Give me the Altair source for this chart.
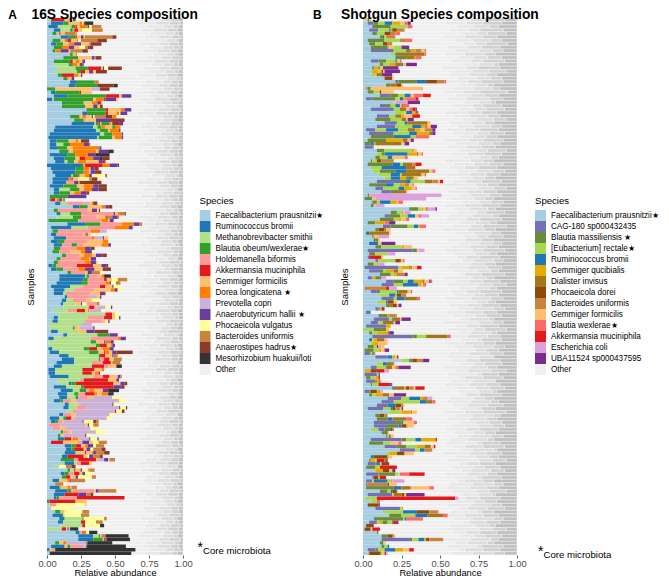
import altair as alt
import pandas as pd

names_a = {"f":"Faecalibacterium prausnitzii★","r":"Ruminococcus bromii","m":"Methanobrevibacter smithii",
 "b":"Blautia obeum/wexlerae★","h":"Holdemanella biformis","k":"Akkermansia muciniphila","g":"Gemmiger formicilis",
 "d":"Dorea longicatena ★","p":"Prevotella copri","a":"Anaerobutyricum hallii ★","v":"Phocaeicola vulgatus",
 "u":"Bacteroides uniformis","n":"Anaerostipes hadrus★","z":"Mesorhizobium huakuii/loti"}
colors_a = {"f":"#A6CEE3","r":"#1F78B4","m":"#B2DF8A","b":"#33A02C","h":"#FB9A99","k":"#E31A1C","g":"#FDBF6F",
 "d":"#FF7F00","p":"#CAB2D6","a":"#6A3D9A","v":"#FFFF99","u":"#C98340","n":"#8C3A2B","z":"#333333"}
names_b = {"f":"Faecalibacterium prausnitzii★","c":"CAG-180 sp000432435","t":"Blautia massiliensis ★","e":"[Eubacterium] rectale★",
 "r":"Ruminococcus bromii","q":"Gemmiger qucibialis","i":"Dialister invisus","o":"Phocaeicola dorei","u":"Bacteroides uniformis",
 "g":"Gemmiger formicilis","w":"Blautia wexlerae★","k":"Akkermansia muciniphila","s":"Escherichia coli","x":"UBA11524 sp000437595"}
colors_b = {"f":"#A6CEE3","c":"#7570B3","t":"#6A8A3C","e":"#A6D854","r":"#1F78B4","q":"#E6AB02","i":"#A6761D","o":"#8C4A0B",
 "u":"#C98340","g":"#FDBF6F","w":"#FB6A6A","k":"#E31A1C","s":"#DDA0DD","x":"#7B2D8E"}

rows_a = [
"f2 m1 k10 g3 d1 a1 v1 n1 z1","f3 r9 b4 g8 d2 v1 a1 z6","f1 r7 m10 b3 k1 g2 d6 a1 v2 u7","f5 r5 m7 b2 h1 k3 g3 v7 u8","f4 b3 h1 m1 k1 g3 u8 d1",
"f10 r6 b5 k1 g3 a2 g1 u20 n3","f4 b6 g3 d2 a2 k1 g4 d1 v2 u12 n7","f3 r4 b5 g4 d4 a5 g6 u1 n8","f5 b6 d5 a4 g4 v4 u2 a1 n3","f4 b2 d4 a6 g1 u9 n4",
"f16 h1 b2 m2 d1","f12 b11 g10 a2 u1 n4","f5 b12 k2 g2 d3 g2 a2","f5 m11 b3 d3 g2 n2 a1","f8 m13 b9 k10 g1 a1 v3 n10",
"f5 m17 b3 k3 g3 a3 g2 n8","f8 b3 k9 d3 g2 a1","f12 b3 d1 g2 a2","f17 r5 b13 u3","f16 r5 b16 n12 z3",
"b6 g27 p6 n7","f3 r3 b18 k1 g7 h1","f5 r10 b28 k10 g2 a7","r4 f1 b29 g2 d6 n1 a8 g1","f11 b16 g6 d4 a2 k1 g1",
"f11 b17 g6 a3 d1 g1 n2","f29 b14 k2 g9 d3 a5","f26 r4 b13 k2 g6 d2 v1 a5","f17 b6 k1 g2 d3 g4 a1 v1 u8 n5 d3","f20 b7 h2 g7 a11 n10",
"f18 r17 m1 b2 k1 g1 b6 d1 g1 n5 a3","f6 r28 m3 b3 d3 g5 b2 d4","f5 r31 m3 b6 g1 d7 a1","f2 r37 m3 b6 d7 a1","f1 r36 m1 b10 g2 d5 a1",
"f2 r5 b9 g5 d2 g2 n6","f2 r5 m5 b5 d10 a4 u1","f2 r6 b7 g4 d17 u3 a1","f9 b7 g3 d17 g2 a7 z4","f2 r13 b6 d9 a6 z10",
"f5 r8 b8 g3 k4 d6 a5 z2 n5","f6 r7 m2 b5 g3 d6 g9 a3 k1 n1","r25 b2 h1 k13 d5 a6 n1","f3 r18 b6 d4 g1 a3 n3","f4 r17 b6 d4 g1 a4 n4",
"f6 r12 m1 b4 k1 g4 d3 a2 v10 n1","f4 r12 d2 k1 g4 v8 u2 n4","f4 r10 h6 a3 d1 n16","f2 r10 b10 g5 d7 a4 n6","f5 r4 m8 b7 g3 d6 a5 n6",
"f5 r4 b8 g3 d5 a4 n2","f2 b13 a14",
"f2 b1 k3 h1 d2 a2 g1 n1","f6 r4 m5 h12 p5 g1 d1 n3","f19 r5 b6 g10 d3 a2 n3","f5 b3 h22 g3 a4 v1 n1","f7 r3 m7 b8 h24 a1 g2 d1 u4 n1",
"f7 m12 b6 h11 g3 g4 k1 u4 a4 d1","f1 b22 h17 d5 g1 a3","f15 r13 b11 h16 d9 a4 u2","f3 r15 m12 h20 d10 a3","f4 b4 h24 d7 p5",
"f3 r4 h20 g1 d1 a1 g2","f5 r9 h19 d2 p6 a1 g3","f3 r5 b5 h17 g11 d4","f5 r6 h7 b4 h5 g13 d5 a2","f5 b5 h12 d6 a4 n3",
"f4 b5 h8 g8 d3 a5","f11 b3 h10 g3 d6 g3 a5 n3","f7 b3 h15 d6 g1 a4","f5 b3 h20 d4 a4 g1","f1 r3 b3 h15 k12 g6 a4 n1",
"f3 r4 b5 h11 d5 a7 g6 n6","f15 b3 h10 g2 a3 u6","f9 r19 m1 b2 h7 g2 d2 z5","f9 r18 b3 h12 k2 g4 v4 u7","f7 r18 b5 h13 d3 a1 v4 n1 u2",
"f3 r14 m9 h13 k4 g5 a1 v4","f5 r8 m7 h15 g12 d3 a2 v3","f5 r7 m2 h18 g7 a3 n1","f13 r2 h16 p6 g2 a1","f11 r3 m5 h10 g4 v5",
"f10 r2 m9 g4 a1 v3 h8 n1 g1","f12 m18 h1 k4 g2 p6 v4 a1","f4 m11 h7 k6 g2 d1 p9 v2","f9 m33 h1 k5 g2 v3","f5 r3 m22 h12 k6 g2 v3 a1",
"f4 r4 m20 h13 g2 v2 a1","f2 m23 p8","f2 m17 b1 d1 g3 p9 h1 a1","f3 r5 m15 g6 a6 n10","f12 r3 m22 b9 a6",
"f1 r4 m27 h20 d2 a4","f1 m31 b4 g6 a1 u4 n2","f2 m34 b3 k5 g3 d1 a2","f1 r3 m23 b4 k6 g4 d5 a3","f2 r7 m22 b7 g4 k1 d3 g2 a3 n12",
"f9 r7 m22 b1 k4 g5 a1 u3","f11 r9 m18 b1 h3 k4 g3 u6","f7 r13 m13 h8 k6 g1 u6","f5 r6 m22 k9 h3 g6 z4","f1 r5 m20 k9 g5 d2",
"f1 r5 m20 k7 g2 d3 a1",
"f2 r14 m18 h7 k5 g6 a2 u1","f8 m16 h3 k18 g6 a2","f8 m8 r2 b3 k28 g5 a3 n2","f5 r9 m11 b2 k22 a6 n2","f10 r9 m5 b5 h2 d4 g6 a4 z8",
"f8 r7 m5 b3 h5 k7 d2 g3 d5 z4","f9 r6 m6 b2 h7 g4 p14 v5","f5 r5 b2 h6 g3 p32 v5","f13 r3 m5 g2 p25 a1 v3","f12 r4 m6 h7 p24 a1 v4 n1",
"f15 m4 h3 p28 k1 v4 n2","f9 r3 h6 g3 p25 v3","f2 r7 m3 b2 k4 g2 p24 v3","f3 r3 b2 h3 g1 p14 a1 v7 n2 u2","f1 h9 p18 g2 a1 v3 u4",
"f4 h6 g4 p18 v6","f10 b2 h4 g2 p18 v8","f8 b2 g2 p16 a1 v3","f8 r5 k5 g1 d4 p8 a1 v5 n1","f3 k9 g11 d1 p2 a5 g3 v4 u6",
"f13 r5 b3 k4 g3 d2 a4 v2 u6","f14 r4 b2 k7 g2 a3 v2 u6 n3","f13 r8 m6 h1 k1 g4 d1 a2 u6 n4","f11 r4 k12 g3 v1 a3 u5 n2","f10 b10 h3 k13 g1 p5 a3 g1 u4",
"f13 r7 m2 h3 k6 g2","f5 m3 g1 v5 u4 n3","f15 b2 m3 k1 g3 d1 a1 v4 h1 u4","f10 r3 b3 h4 k4 g2 a2 v5","f11 b3 k3 h1 g3 a2 v10 u3",
"f4 r5 g6 d2 a1 u10","f6 u6","f2 r7 b1 g5 d2 h1 u4","f6 r9 b3 h17 g1 a2 u13","f5 r8 k10 a6 u3 n2",
"f5 r2 b2 h13 k35","b2 k19 g8","f2 h5 v21 g1","f3 v16","f6 b4 g3 v13 u5",
"f4 r7 b1 g1 v12 u6","f9 r4 m13 b1 v15 u2","f8 r4 m13 k3 v8 u5","f10 m16 k2 v11 z3","m10 h1 k3 g1 a1 p1 z6",
"f21 r3 h1 g1 k1 d2 v2 z6","f23 r11 m4 b1 g1 u3 z17","f23 r11 b7 h1 k1 a1 z17","f6 b3 g3 d2 p15 n1 z18","f3 r10 g2 b2 h10 p2 z29",
"r2 g2 d1 p1 z59","f2 z60"]

rows_b = [
"f1 g2 t1 e1","f3 c4 t3 e4 r5 q5 g3 w2 x2","f6 t12 e11 w3","f4 c6 e7 r1 q1 o3 u5","f6 t3 e5 o4 u3 w3",
"f11 t2 r1 g1 u6","f3 t11 e10 u4 w4","f4 t4 e5 o3 u3","f5 t10 r1 q1 g3 e5 x5","f5 c15 e8 t3 q3 u4 g2 w1",
"f18 e3 r1 i18 w1","f21 t7 i5 u1 w4","f5 c5 t5 e6 r1 g2 w1","f11 t2 e4 q4 i4 r1 g2 x7","f6 r1 q3 t1 g2 x10",
"f6 q4 e2 o1 g1 x10","f5 e3 q1 i3 k1 x6","f14 o5 g1","f21 c2 t12 r6 o7 u5 w1","f15 t3 i4 o3 g1",
"f2 u1 t2 g34","f3 t4 e3 q1 o1 g8","f11 c7 t5 e4 r4 g2 w6 k5","f2 c4 t15 e3 r2 q2 w6 k2","f20 g1 s8 x8",
"f11 c4 t3 e3 r3 g1 i1 w4","f5 c15 e4 i4 g2 w2 k2 x1","f21 e6 g1 r4 q2 i2","f9 c8 e4 i4 q2 g5 k5","f8 t10 e7 i3 g1 x4",
"f14 c8 e5 r2 i13 g2","f9 c12 e11 r6 q2 u2 g2 x4","f2 c6 e7 r8 e6 i5 q3 g3 u5 x2","f4 c16 e10 r5 q8 i2 x2","f5 t15 r11 e3 w9",
"f3 t12 q11 i3 g2 x2","f1 t4 r2 q1 i17 g2 x3","f1 c5 t1","f9 t5 e18 w1 g2","f9 e3 t2 r15 q6 i1 g2 w1",
"f8 t3 e5 r3 e1 g7 w2","f5 t1 e3 o3 u8","f3 t16 r5 e2 t2 i4 w2 k4","f5 e7 r16 i6","f6 e5 t10 r7 i15 g2 w2",
"f10 e8 r6 e1 i13 g2 u1","f14 e4 r6 q4 t4 i1 g3","f9 c17 t2 r3 e9 i5 u4 g1 k2","f4 t11 r5 e4 q3 u3 g2 w1","f8 c5 e10 r4 q5 g2 w1",
"f12 c6 t3 o1 i6 g1","f3 t1 s47",
"f1 t5 g2 s33","f6 t3 e2 r7 q4 g1 w3","f5 t2 g1 s6","f30 t6 e2 q1 g2 i1 s5 x1","f18 t4 e3 q1 g1 s4",
"f14 c3 t7 e5 r5 g2 w2 s5","f11 t9 e3 q2 g3 w2","f3 t5 q6 w3 x4","f13 c5 t11 e4 r3 q1 w4","f8 t2 o4 i1 g3",
"f1 e1 r2 i13 g1","f6 t1 g2 e1 s7","f7 o1 t2 g1","f4 r6 g2 x9","f8 t4 e13 q2 g5",
"f3 c29 t3 g1 s4","f4 t4 e8 s5","f3 c1 k8 g1","f8 c2 e11 o3 i1 g1 w1","f3 t4 e2 q1 s4",
"f1 c22 e2 q5 i1 u1 g3 k3","f4 c7 t2 e2 q5 i3 g3","f11 t7 e2 q2 u5 x2","f3 c3 q2 t4 s3","f15 c5 t6 e3 r4 q6 i1 g3 x1 w1",
"f12 c8 e6 r10 q2 g1 w2","f1 u14 k2 s5","f5 c4 t2 e11 r1 i6 g2 w1","f11 e6 r4 q1 o3 u3","f12 c8 e2 r5 i8 w2",
"f9 e6 r1 o4 g2","f15 t2 i2 o3 g1 x2","f8 c2 t1 e1 k2","f2 c3","f10 t6 q1 u3 i1 w1",
"f7 c10 e2 r1 i4 g1 x6","f5 c5 e3 i7 g1 x3","f2 c13 q3","e7 t8 g2","f4 t2 e3 q7 i1 x3",
"f6 c26 t3 e6 i14 w2","f4 r2 e1 q2 i5 g2","f5 e1 q4 g6","f3 t4 e2 k1 s2 g2","f1 t6 e3 q2 g2 x3",
"f1 c3 t1 e1 r1 w1","f8 c8 r3 q2 g1 k1","f25 e5 r1 i1 o3 u4 x4","f9 e4 r2 t2 o1 i2 g1","f5 c4 e6 i4 g2 u2 x8",
"f1 q4 o4 k5 s3","f1 c8 s1 r1",
"f2 t3 e3 q2 k1","f2 c6 t1 q1 i1 s1","f5 t1 e4 k8 r1","f19 r1 i7 q1 o2 u3 g1 k6","f1 c3 t1 o4 q1 u1 g1 s1",
"f4 t2 e2 q5 i4 g3 x8","f16 c9 e5 r7 q2 u3 s3","f12 c8 e17 r4 i4 w2","f9 c7 r5 o4 u1 g1","f3 c10 e5 r1 o2 u3 g1 x1",
"f17 e8 q6 u1 g3","f8 t3 o3 u2","f9 t7 r3 i9 w4","f7 c15 t3 r1 e1 g6 w2","f7 c8 t8 r2 o3 u1 g4",
"f5 e5 c4 t3 r1 o1 i1","f12 t3 o1 g1","f15 t1 e1 o1 g2","f5 c20 t3 e6 r4 q9 k1","f4 t9 e5 g5 w2",
"f14 c8 t6 e7 q5 i4 g2 k1","f24 c10 e3 r3 u5","f15 e2 q5 o5 g6","f5 r2 o9 e1 g2","f4 t1 q3 e1 k5 i1 x1",
"f3 c5 t1 r2 g1 o5","f2 t6 q1 e2 k11","f8 q5 o4 e1 g1 x2","f2 c8 t11 e2 g1 w6 k10","f6 c1 o3 q1 k4",
"f2 c4 e1 r9 e2 q1 s8","f2 t1 u13 o1 g5","f2 t18 r5 i6 g12 w3","f11 t5 e2 r1 o3 g1","f3 c16 e1 i5 o2 g1 x12",
"f1 e8 k51 s2","f5 e4 w2","f3 o7 x1","f8 c16 e1 q1","f13 e13 r9 o8 u5 w1",
"f17 t8 e9 r8 i10 w3","f7 t19 e1 r1 w11","f4 c5 e2 q2 t3 e3 o1 k2 x1","f2 o5","f1 o4 g1 k5",
"f9 t1","f12 t4 o3 i1 g1","f12 c20 e4 r4 q1 o2 u9","f11 t2 e1 g1","f12 t2 e2 r1",
"f3 c5 t2 e4 r7 q5 g4 k3","f3 e1 o7 i1 g2 k1 s1"]

# Positions (percent) where the grey "Other" remainder of each sample changes tone.
other_a = """71 84 91 97|66 80 90 98|74 86 93 97|69 78 89 96|76 87 94 97|72 82 92 98|80 88 95 97|68 83 90 97|75 85 93 98|70 81 91 96
78 88 94 97|73 84 92 98|65 79 90 97|77 86 93 97|71 83 91 98|74 87 94 97|67 80 89 96|79 89 95 98|72 85 92 97|69 82 90 97
76 86 93 98|70 81 91 97|75 88 94 96|68 79 90 98|73 84 92 97|78 87 95 97|71 82 91 98|66 80 89 97|74 85 93 97|77 86 92 96
72 83 91 98|69 81 90 97|75 87 94 97|70 84 92 98|79 88 95 97|73 82 91 97|67 85 93 96|76 86 92 98|71 80 90 97|74 83 93 97
78 89 94 98|68 82 91 97|72 85 92 96|75 84 93 98|70 79 90 97|77 87 95 97|73 86 92 98|66 81 89 97|74 83 91 97|71 88 94 96
79 85 93 98|69 80 90 97|76 86 92 97|72 84 94 98|70 82 91 96|75 87 93 97|78 83 90 98|67 81 92 97|73 85 94 97|71 79 89 96
74 88 95 98|68 82 91 97|77 86 93 97|72 80 90 98|75 84 92 96|69 83 94 97|76 87 91 98|70 81 93 97|73 85 92 97|79 89 95 96
71 82 90 98|67 84 93 97|75 86 91 97|72 80 92 98|78 88 94 96|70 83 90 97|74 85 93 98|69 81 91 97|76 87 95 97|73 79 89 96
68 84 92 98|77 86 94 97|71 82 90 97|75 88 93 98|72 80 91 96|66 83 92 97|79 85 94 97|70 81 90 98|74 87 93 97|73 84 91 96
76 82 89 98|69 86 95 97|72 80 92 97|78 85 91 98|71 83 93 96|75 87 94 97|67 81 90 98|73 84 92 97|70 79 91 97|77 88 95 96
74 83 92 98|68 80 89 97|76 86 93 97|71 85 94 98|79 87 91 96|72 82 90 97|75 84 93 98|69 81 92 97|73 88 95 97|70 83 90 96
78 85 94 98|66 82 91 97|74 86 92 97|71 80 89 98|76 87 95 96|72 84 93 97|69 83 90 98|75 81 92 97|70 85 94 97|77 88 91 96
73 82 90 98|68 86 93 97|76 84 91 97|71 79 92 98|74 87 94 96|70 81 90 97|78 85 93 98|72 83 91 97|67 80 89 97|75 88 95 96
69 84 92 98|77 82 90 97|73 86 94 97|71 81 91 98|74 85 93 96|79 87 92 97|68 83 90 98|72 80 89 97|76 84 94 97|70 86 93 96
75 88 95 98|71 82 91 97|73 85 92 97|78 81 90 98|69 84 93 96|74 87 94 97|72 83 91 98|76 80 89 97|70 86 92 97|67 85 93 96
77 82 90 98|73 84 94 97|71 81 91 97|75 87 93 98|72 83 92 96|69 80 90 97""".replace("\n", "|").split("|")

other_b = """58 70 79 92|54 67 78 90|61 72 82 88|56 69 76 91|63 74 81 93|52 66 78 87|59 71 83 90|65 73 80 94|55 68 77 89|60 75 84 91
53 66 79 86|62 72 81 90|57 70 78 92|64 76 85 88|51 67 75 89|59 71 82 93|56 69 80 87|61 74 83 90|54 68 77 91|63 73 81 85
58 72 84 89|52 65 76 94|60 70 79 88|55 67 82 91|65 75 83 86|57 71 78 90|62 73 80 92|53 68 77 87|59 69 81 89|64 74 85 93
56 70 79 85|61 72 83 90|54 66 76 88|58 74 82 92|63 71 80 87|52 69 78 91|60 75 84 89|55 67 77 86|62 73 81 93|57 68 79 90
65 76 83 88|53 70 78 85|59 72 82 91|56 66 75 87|61 74 84 92|54 69 80 89|63 71 79 86|58 67 77 90|52 73 81 88|60 75 85 93
55 68 78 87|62 70 82 90|57 72 79 85|64 76 83 91|53 66 77 89|59 69 81 86|61 74 80 92|56 71 84 88|54 67 76 90|63 73 82 87
58 70 78 93|52 68 79 86|60 72 83 89|65 74 81 91|55 66 77 85|62 75 84 90|57 69 80 88|53 71 78 92|59 73 82 87|61 67 76 89
64 72 85 91|56 70 79 86|54 68 81 90|58 74 83 88|63 66 77 92|52 71 80 85|60 69 78 89|55 75 84 93|62 73 82 87|57 67 76 90
59 72 79 88|53 70 83 91|65 74 81 86|56 68 77 89|61 71 85 92|54 66 78 87|58 73 80 90|63 69 82 85|52 75 84 91|60 67 76 88
55 72 79 93|62 70 83 87|57 68 81 89|64 74 77 90|53 66 78 86|59 71 85 92|61 73 80 88|56 69 82 91|54 75 84 85|58 67 76 89
63 72 79 90|52 70 81 87|60 68 83 93|55 74 77 88|62 66 78 91|57 71 85 86|53 69 80 89|59 73 82 92|61 75 84 87|64 67 76 90
56 72 79 85|54 70 83 88|58 68 81 91|63 74 77 86|52 66 78 93|60 71 85 89|55 69 80 87|62 73 82 90|57 75 84 92|53 67 76 88
59 72 79 86|61 70 83 91|56 68 81 85|54 74 77 89|58 66 78 92|63 71 85 87|52 69 80 90|60 73 82 88|55 75 84 93|62 67 76 86
57 72 79 89|64 70 83 92|53 68 81 87|59 74 77 90|61 66 78 85|56 71 85 91|54 69 80 88|58 73 82 93|63 75 84 86|52 67 76 89
60 72 79 87|55 70 83 90|62 68 81 92|57 74 77 85|53 66 78 88|59 71 85 91|65 69 80 89|56 73 82 86|54 75 84 93|58 67 76 87
63 72 79 90|52 70 83 88|60 68 81 85|55 74 77 91|62 66 78 89|57 71 85 92""".replace("\n", "|").split("|")

OTHER = "Other"
SHADES = [("Other", "#EFEFEF"), ("Other2", "#E8E8E8"), ("Other3", "#DDDDDD"), ("Other4", "#D0D0D0"), ("Tail", "#BFBFBF")]

def frames(rows, others, names):
    col, oth = [], []
    for i, row in enumerate(rows):
        pos = 0.0
        for j, tok in enumerate(row.split()):
            v = float(tok[1:])
            col.append(dict(row=i, sp=names[tok[0]], x=pos / 100, x2=(pos + v) / 100, o=j))
            pos += v
        marks = [float(n) for n in others[i % len(others)].split()] + [100.0]
        for k, (b, (nm, _)) in enumerate(zip(marks, SHADES)):
            if b > pos:
                oth.append(dict(row=i, sp=nm, x=pos / 100, x2=b / 100, o=k))
                pos = b
    return pd.DataFrame(col), pd.DataFrame(oth)

def panel(rows, others, names, colors, title, w, ytp, lx, ly, core_x, core_y, tx, extra):
    col, oth = frames(rows, others, names)
    domain = [names[k] for k in colors] + [s for s, _ in SHADES]
    rng = list(colors.values()) + [c for _, c in SHADES]
    legend = alt.Legend(title="Species", orient="none", legendX=lx, legendY=ly, values=[names[k] for k in colors] + [OTHER],
                        symbolType="square", symbolSize=121, symbolStrokeWidth=0, labelFontSize=8.15, labelColor="#000000",
                        titleFontSize=9.6, titleFontWeight="normal", titleColor="#000000", labelLimit=300, rowPadding=0,
                        labelOffset=5, titlePadding=5, labelFont="Liberation Sans", titleFont="Liberation Sans",
                        clipHeight=11)
    color = alt.Color("sp:N", scale=alt.Scale(domain=domain, range=rng), legend=legend)
    x = alt.X("x:Q", scale=alt.Scale(domain=[0, 1], nice=False, zero=False, padding=0),
              axis=alt.Axis(values=[0, .25, .5, .75, 1], format=".2f", title="Relative abundance", grid=False, domain=False,
                            tickSize=3, tickColor="#333333", tickWidth=0.8, labelColor="#4D4D4D", labelFontSize=9.4, labelFlush=False,
                            titleFontSize=9.3, titleFontWeight="normal", titleColor="#000000", labelPadding=1, titlePadding=1,
                            labelFont="Liberation Sans", titleFont="Liberation Sans"))
    y = alt.Y("row:O", scale=alt.Scale(paddingInner=0, paddingOuter=0, round=False),
              axis=alt.Axis(labels=False, ticks=False, domain=False, title="Samples", titleFontSize=9.6, titleFontWeight="normal",
                            titleColor="#000000", titlePadding=ytp, titleFont="Liberation Sans"))
    l1 = alt.Chart(oth).mark_bar(stroke="#FFFFFF", strokeWidth=0.35).encode(x=x, x2="x2:Q", y=y, color=color)
    l2 = alt.Chart(col).mark_bar().encode(x=x, x2="x2:Q", y=y, color=color)
    t = alt.Chart(pd.DataFrame({"t": [title]})).mark_text(font="Liberation Sans", fontSize=13.8, fontWeight="bold", align="left",
            baseline="middle", color="#000000").encode(x=alt.value(tx), y=alt.value(-3), text="t:N")
    c1 = alt.Chart(pd.DataFrame({"t": ["*"]})).mark_text(font="Liberation Sans", fontSize=14, align="left", baseline="middle",
            color="#000000").encode(x=alt.value(core_x), y=alt.value(core_y - 3), text="t:N")
    c2 = alt.Chart(pd.DataFrame({"t": ["Core microbiota"]})).mark_text(font="Liberation Sans", fontSize=9.6, align="left", baseline="middle",
            color="#000000").encode(x=alt.value(core_x + 5.5), y=alt.value(core_y), text="t:N")
    layers = [l1, l2, t, c1, c2] + extra
    return alt.layer(*layers).properties(width=w, height=537)

def letter(s, x):
    return alt.Chart(pd.DataFrame({"t": [s]})).mark_text(font="Liberation Sans", fontSize=12, fontWeight="bold", align="left",
            baseline="middle", color="#000000").encode(x=alt.value(x), y=alt.value(-3), text="t:N")

a = panel(rows_a, other_a, names_a, colors_a, "16S Species composition", 136, 12, 152.5, 177.5, 150.5, 533, -15.5,
          [letter("A", -38.7), letter("B", 266)])
b = panel(rows_b, other_b, names_b, colors_b, "Shotgun Species composition", 154, 13.5, 172, 177.5, 175, 537, -22, [])

chart = alt.hconcat(a, b, spacing=15).resolve_scale(color="independent", x="independent", y="independent").properties(
    padding={"left": 0, "top": 0, "right": 0, "bottom": 0}
).configure_view(stroke=None)
chart.save("out.html", embed_options={"renderer": "svg", "actions": False})
